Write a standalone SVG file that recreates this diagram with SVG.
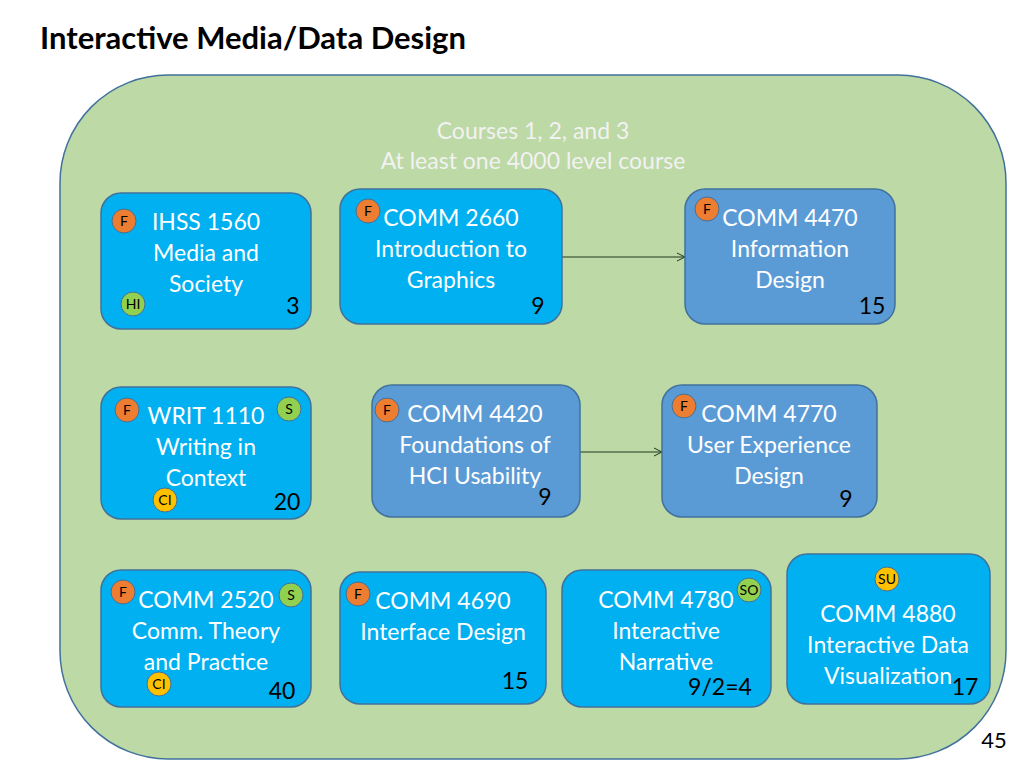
<svg xmlns="http://www.w3.org/2000/svg" width="1024" height="768" viewBox="0 0 1024 768">
<style>
.node{stroke:#41719C;stroke-width:1.5}
.lb{fill:#00B0F0}
.mb{fill:#5B9BD5}
.t{font-family:Lato,"Open Sans","Liberation Sans",sans-serif;font-size:23px;fill:#FFFFFF;text-anchor:middle}
.n{font-family:Lato,"Open Sans","Liberation Sans",sans-serif;font-size:23px;fill:#000000;text-anchor:middle}
.bt{font-family:Lato,"Open Sans","Liberation Sans",sans-serif;font-size:14px;fill:#000000;text-anchor:middle}
.bF{fill:#ED7D31;stroke:#41719C;stroke-width:1}
.bG{fill:#92D050;stroke:#41719C;stroke-width:1}
.bY{fill:#FFC000;stroke:#41719C;stroke-width:1}
.conn{stroke:#1F3A1F;stroke-width:1;fill:none}
</style>
<defs>
<marker id="arr" markerWidth="10" markerHeight="10" refX="9" refY="5" orient="auto" markerUnits="userSpaceOnUse">
<path d="M1,1 L9,5 L1,9" fill="none" stroke="#1F3A1F" stroke-width="1"/>
</marker>
</defs>
<rect width="1024" height="768" fill="#FFFFFF"/>
<text x="40" y="49" font-family="Lato,'Open Sans','Liberation Sans',sans-serif" font-size="31" font-weight="bold" fill="#000000">Interactive Media/Data Design</text>
<g id="container">
<rect x="60" y="75" width="946" height="684" rx="108" ry="108" fill="#BDD9A6" stroke="#41719C" stroke-width="1.5"/>
<text class="t" x="533" y="139" style="font-size:23px;fill:#F2F2F2">Courses 1, 2, and 3</text>
<text class="t" x="533" y="169" style="font-size:23px;fill:#F2F2F2">At least one 4000 level course</text>
</g>
<g id="connectors">
<line class="conn" x1="562" y1="257" x2="685" y2="257" marker-end="url(#arr)"/>
<line class="conn" x1="580" y1="452" x2="662" y2="452" marker-end="url(#arr)"/>
</g>
<g id="ihss1560">
<rect class="node lb" x="101" y="193" width="210" height="136" rx="20"/>
<text class="t" x="206" y="230">IHSS 1560</text>
<text class="t" x="206" y="261">Media and</text>
<text class="t" x="206" y="292">Society</text>
<circle class="bF" cx="124" cy="221" r="12"/><text class="bt" x="124" y="226">F</text>
<circle class="bG" cx="133" cy="304" r="12"/><text class="bt" x="133" y="309">HI</text>
<text class="n" x="293" y="314">3</text>
</g>
<g id="comm2660">
<rect class="node lb" x="340" y="189" width="222" height="135" rx="20"/>
<text class="t" x="451" y="226">COMM 2660</text>
<text class="t" x="451" y="257">Introduction to</text>
<text class="t" x="451" y="288">Graphics</text>
<circle class="bF" cx="368" cy="211" r="12"/><text class="bt" x="368" y="216">F</text>
<text class="n" x="538" y="314">9</text>
</g>
<g id="comm4470">
<rect class="node mb" x="685" y="189" width="210" height="135" rx="20"/>
<text class="t" x="790" y="226">COMM 4470</text>
<text class="t" x="790" y="257">Information</text>
<text class="t" x="790" y="288">Design</text>
<circle class="bF" cx="707" cy="209" r="12"/><text class="bt" x="707" y="214">F</text>
<text class="n" x="872" y="314">15</text>
</g>
<g id="writ1110">
<rect class="node lb" x="101" y="387" width="210" height="132" rx="20"/>
<text class="t" x="206" y="424">WRIT 1110</text>
<text class="t" x="206" y="455">Writing in</text>
<text class="t" x="206" y="486">Context</text>
<circle class="bF" cx="127" cy="410" r="12"/><text class="bt" x="127" y="415">F</text>
<circle class="bG" cx="289" cy="409" r="12"/><text class="bt" x="289" y="414">S</text>
<circle class="bY" cx="165" cy="500" r="12"/><text class="bt" x="165" y="505">CI</text>
<text class="n" x="287" y="510">20</text>
</g>
<g id="comm4420">
<rect class="node mb" x="372" y="385" width="208" height="132" rx="20"/>
<text class="t" x="475" y="422">COMM 4420</text>
<text class="t" x="475" y="453">Foundations of</text>
<text class="t" x="475" y="484">HCI Usability</text>
<circle class="bF" cx="387" cy="410" r="12"/><text class="bt" x="387" y="415">F</text>
<text class="n" x="545" y="505">9</text>
</g>
<g id="comm4770">
<rect class="node mb" x="662" y="385" width="215" height="132" rx="20"/>
<text class="t" x="769" y="422">COMM 4770</text>
<text class="t" x="769" y="453">User Experience</text>
<text class="t" x="769" y="484">Design</text>
<circle class="bF" cx="684" cy="406" r="12"/><text class="bt" x="684" y="411">F</text>
<text class="n" x="846" y="507">9</text>
</g>
<g id="comm2520">
<rect class="node lb" x="101" y="570" width="210" height="137" rx="20"/>
<text class="t" x="206" y="608">COMM 2520</text>
<text class="t" x="206" y="639">Comm. Theory</text>
<text class="t" x="206" y="670">and Practice</text>
<circle class="bF" cx="123" cy="592" r="12"/><text class="bt" x="123" y="597">F</text>
<circle class="bG" cx="291" cy="595" r="12"/><text class="bt" x="291" y="600">S</text>
<circle class="bY" cx="159" cy="684" r="12"/><text class="bt" x="159" y="689">CI</text>
<text class="n" x="282" y="699">40</text>
</g>
<g id="comm4690">
<rect class="node lb" x="340" y="572" width="206" height="132" rx="20"/>
<text class="t" x="443" y="609">COMM 4690</text>
<text class="t" x="443" y="640">Interface Design</text>
<circle class="bF" cx="358" cy="594" r="12"/><text class="bt" x="358" y="599">F</text>
<text class="n" x="515" y="689">15</text>
</g>
<g id="comm4780">
<rect class="node lb" x="562" y="570" width="209" height="137" rx="20"/>
<text class="t" x="666" y="608">COMM 4780</text>
<text class="t" x="666" y="639">Interactive</text>
<text class="t" x="666" y="670">Narrative</text>
<circle class="bG" cx="749" cy="590" r="12"/><text class="bt" x="749" y="595">SO</text>
<text class="n" x="720" y="695">9/2=4</text>
</g>
<g id="comm4880">
<rect class="node lb" x="787" y="554" width="203" height="150" rx="20"/>
<text class="t" x="888" y="622">COMM 4880</text>
<text class="t" x="888" y="653">Interactive Data</text>
<text class="t" x="888" y="684">Visualization</text>
<circle class="bY" cx="887" cy="579" r="12"/><text class="bt" x="887" y="584">SU</text>
<text class="n" x="965" y="695">17</text>
</g>
<text x="994" y="748" font-family="Lato,'Open Sans','Liberation Sans',sans-serif" font-size="22" fill="#000000" text-anchor="middle">45</text>
</svg>
